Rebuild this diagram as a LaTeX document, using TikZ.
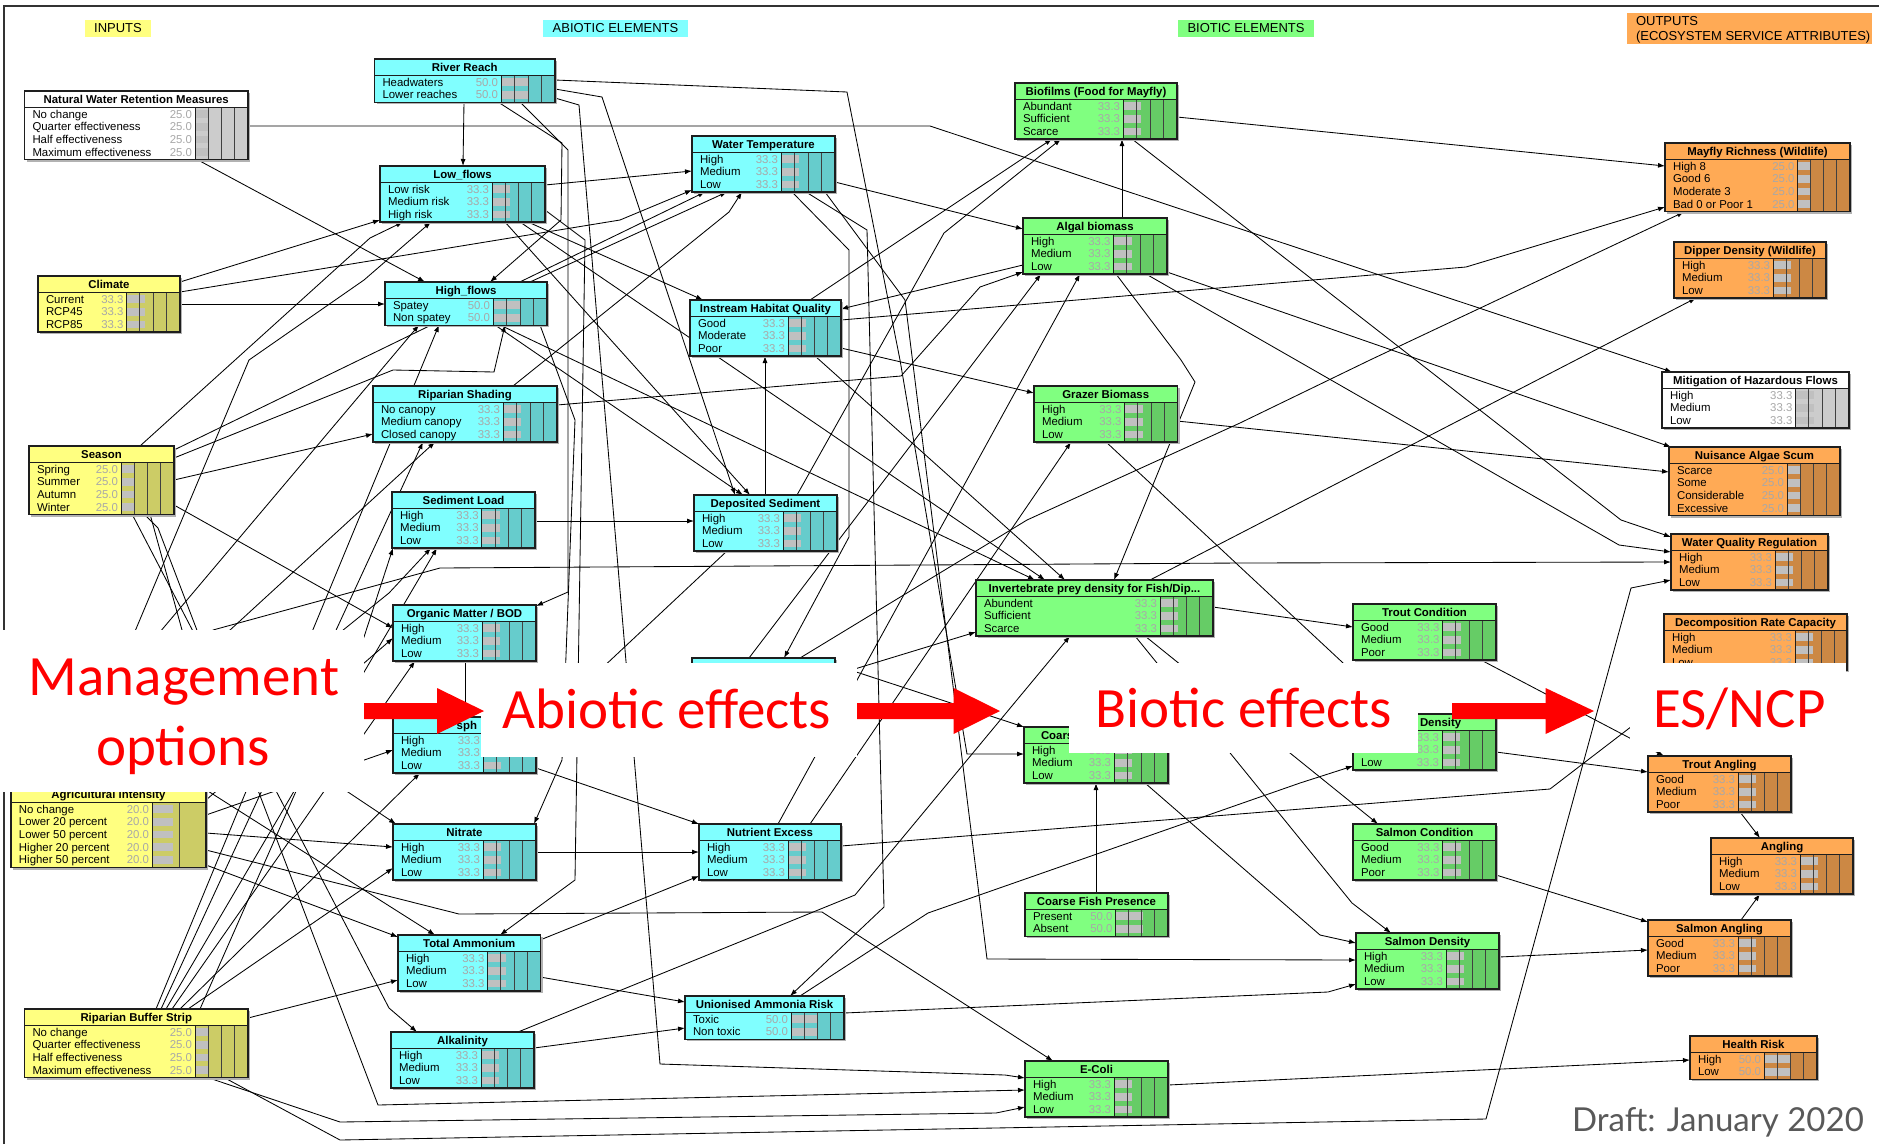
\documentclass[tikz,border=0pt]{standalone}
\usepackage{fontspec}
\setmainfont{Liberation Sans}
\newfontfamily\calibfont{Carlito}
\newfontfamily\latofont{Lato}
\usetikzlibrary{arrows.meta,calc}
\pgfdeclarelayer{bg}
\pgfdeclarelayer{edgelayer}
\pgfsetlayers{bg,edgelayer,main}

\definecolor{cyL}{HTML}{80FFFF}\definecolor{cyD}{HTML}{66CCCC}
\definecolor{yeL}{HTML}{FFFF80}\definecolor{yeD}{HTML}{CCCC66}
\definecolor{grL}{HTML}{80FF80}\definecolor{grD}{HTML}{66CC66}
\definecolor{orL}{HTML}{FFAA55}\definecolor{orD}{HTML}{CC8844}
\definecolor{whL}{HTML}{FFFFFF}\definecolor{whD}{HTML}{CCCCCC}
\definecolor{valgray}{HTML}{A8A8A8}
\definecolor{barc}{HTML}{C0C0C0}
\definecolor{draftgray}{HTML}{595959}
\definecolor{nbord}{HTML}{1E1E1E}
\definecolor{redov}{HTML}{FF0000}

\tikzset{
  rowtxt/.style={inner sep=0pt, outer sep=0pt, anchor=base west, font=\fontsize{11.4}{13}\selectfont},
  valtxt/.style={inner sep=0pt, outer sep=0pt, anchor=base east, text=valgray, font=\fontsize{11.4}{13}\selectfont},
  ttltxt/.style={inner sep=0pt, outer sep=0pt, anchor=base, font=\bfseries\fontsize{11.4}{13}\selectfont},
  edge/.style={draw=black, line width=0.85pt, -{Latex[length=7pt,width=5pt]}},
  nbox/.style={draw=nbord, line width=1.3pt},
  nline/.style={draw=nbord, line width=1pt},
  qline/.style={draw=black!75, line width=0.8pt},
  catlbl/.style={inner sep=0pt, outer sep=0pt, font=\fontsize{13}{15}\selectfont},
  redtxt/.style={inner sep=0pt, outer sep=0pt, anchor=base, text=redov, font=\calibfont\fontsize{57}{60}\selectfont},
}

\newcommand\nolab{}
\def\barscale{0.535}
\def\qlist{0.25,0.5,0.75}

% #1 name, #2 x0, #3 y0, #4 width, #5 bar offset, #6 rows, #7 scheme, #8 title, #9 rows
\newcommand{\bn}[9]{%
  \pgfmathsetmacro{\bnh}{18+12.7*#6}%
  \pgfmathsetmacro{\bnbw}{#4-#5}%
  \expandafter\xdef\csname bnx#1\endcsname{#2}%
  \expandafter\xdef\csname bny#1\endcsname{#3}%
  \begin{scope}[shift={(#2,#3)}]
    \fill[black!30] (2,2) rectangle (#4+2,\bnh+2);
    \fill[#7L] (0,0) rectangle (#4,\bnh);
    \fill[#7D] (#5,16) rectangle (#4,\bnh);
    \foreach \lab/\val [count=\i] in {#9} {%
      \pgfmathsetmacro{\yy}{23+12.7*(\i-1)}%
      \fill[barc] (#5+0.6,\yy-3.8) rectangle (#5+0.6+\val*\barscale,\yy+3.8);
      \node[rowtxt] (#1l\i) at (8,\yy+4) {\lab};
      \node[valtxt] (#1v\i) at (#5-3,\yy+4) {\val};
    }
    \foreach \k in \qlist {\draw[qline] (#5+\bnbw*\k,16) -- (#5+\bnbw*\k,\bnh);}
    \draw[nline] (0,16) -- (#4,16);
    \draw[nline] (#5,16) -- (#5,\bnh);
    \draw[nbox] (0,0) rectangle (#4,\bnh);
    \node[ttltxt] (#1t) at (#4/2,12) {#8};
  \end{scope}
  \node[inner sep=0pt, outer sep=0pt, minimum width=#4pt, minimum height=\bnh pt, anchor=north west] (#1) at (#2,#3) {};
}

% edge: #1 src, #2 #3 abs point on src, #4 via, #5 tgt, #6 #7 abs point on tgt
\newcommand{\ed}[7]{%
  \edef\edsx{\csname bnx#1\endcsname}\edef\edsy{\csname bny#1\endcsname}%
  \edef\edtx{\csname bnx#5\endcsname}\edef\edty{\csname bny#5\endcsname}%
  \pgfmathsetmacro\edax{#2-\edsx}\pgfmathsetmacro\eday{#3-\edsy}%
  \pgfmathsetmacro\edbx{#6-\edtx}\pgfmathsetmacro\edby{#7-\edty}%
  \draw[edge] ($(#1.north west)+(\edax,\eday)$) #4 ($(#5.north west)+(\edbx,\edby)$);}

\begin{document}
\begin{tikzpicture}[x=1pt,y=-1pt]
\useasboundingbox (0,0) rectangle (1879,1144);
\begin{pgfonlayer}{bg}
\fill[white] (0,0) rectangle (1879,1144);
\draw[line width=2pt, black!80] (4,1144) -- (4,6) -- (1879,6);
\end{pgfonlayer}

% ---------- category labels ----------
\node[catlbl, fill=yeL, minimum width=66pt, minimum height=17pt, anchor=north west] (labIn) at (85,20) {INPUTS};
\node[catlbl, fill=cyL, minimum width=145pt, minimum height=17pt, anchor=north west] (labAb) at (543,20) {ABIOTIC ELEMENTS};
\node[catlbl, fill=grL, minimum width=136pt, minimum height=17pt, anchor=north west] (labBi) at (1178,20) {BIOTIC ELEMENTS};
\node[fill=orL, inner sep=0pt, minimum width=245pt, minimum height=31pt, anchor=north west] (labOut) at (1627,13) {};
\node[catlbl, anchor=base west] (labOutA) at (1636,25) {OUTPUTS};
\node[catlbl, anchor=base west] (labOutB) at (1636,40) {(ECOSYSTEM SERVICE ATTRIBUTES)};

% ---------- inputs ----------
\bn{NWRM}{24.5}{91}{223.5}{170.5}{4}{wh}{Natural Water Retention Measures}{No change/25.0,Quarter effectiveness/25.0,Half effectiveness/25.0,Maximum effectiveness/25.0}
\bn{CL}{38}{276}{142}{88.5}{3}{ye}{Climate}{Current/33.3,RCP45/33.3,RCP85/33.3}
\bn{SE}{29}{446}{145}{92}{4}{ye}{Season}{Spring/25.0,Summer/25.0,Autumn/25.0,Winter/25.0}
\def\barscale{1}\def\qlist{0.5}
\bn{AG}{11}{786}{195}{141}{5}{ye}{Agricultural intensity}{No change/20.0,Lower 20 percent/20.0,Lower 50 percent/20.0,Higher 20 percent/20.0,Higher 50 percent/20.0}
\def\barscale{0.535}\def\qlist{0.25,0.5,0.75}
\bn{RBS}{24.5}{1009}{223.5}{170.5}{4}{ye}{Riparian Buffer Strip}{No change/25.0,Quarter effectiveness/25.0,Half effectiveness/25.0,Maximum effectiveness/25.0}

% ---------- abiotic ----------
\bn{RR}{374.5}{59}{180.5}{126.5}{2}{cy}{River Reach}{Headwaters/50.0,Lower reaches/50.0}
\bn{LF}{380}{166}{165}{112}{3}{cy}{Low\_flows}{Low risk/33.3,Medium risk/33.3,High risk/33.3}
\bn{HF}{385}{282}{162}{108}{2}{cy}{High\_flows}{Spatey/50.0,Non spatey/50.0}
\bn{RS}{373}{386}{184}{130}{3}{cy}{Riparian Shading}{No canopy/33.3,Medium canopy/33.3,Closed canopy/33.3}
\bn{SL}{392}{492}{143}{89.6}{3}{cy}{Sediment Load}{High/33.3,Medium/33.3,Low/33.3}
\bn{OM}{393}{605}{143}{89}{3}{cy}{Organic Matter / BOD}{High/33.3,Medium/33.3,Low/33.3}
\bn{PH}{393}{717}{143}{90}{3}{cy}{}{High/33.3,Medium/33.3,Low/33.3}
\node[ttltxt, anchor=base west] (PHpart) at (456.7,729) {sph};
\bn{NI}{393}{824}{143}{90}{3}{cy}{Nitrate}{High/33.3,Medium/33.3,Low/33.3}
\bn{TA}{398}{935}{142.5}{89.5}{3}{cy}{Total Ammonium}{High/33.3,Medium/33.3,Low/33.3}
\bn{AL}{391}{1032}{143}{90}{3}{cy}{Alkalinity}{High/33.3,Medium/33.3,Low/33.3}
\bn{WT}{692}{136}{143}{89}{3}{cy}{Water Temperature}{High/33.3,Medium/33.3,Low/33.3}
\bn{IHQ}{690}{300}{151}{98}{3}{cy}{Instream Habitat Quality}{Good/33.3,Moderate/33.3,Poor/33.3}
\bn{DS}{694}{495}{143}{89}{3}{cy}{Deposited Sediment}{High/33.3,Medium/33.3,Low/33.3}
% node hidden behind the white panel: only its top edge shows
\expandafter\xdef\csname bnxHN\endcsname{692}%
\expandafter\xdef\csname bnyHN\endcsname{658}%
\fill[black!30] (694,660) rectangle (837,716.1);
\fill[cyL] (692,658) rectangle (835,714.1);
\draw[nbox] (692,658) rectangle (835,714.1);
\node[inner sep=0pt, outer sep=0pt, minimum width=143pt, minimum height=56.1pt, anchor=north west] (HN) at (692,658) {};
\bn{NE}{699}{824}{142}{89}{3}{cy}{Nutrient Excess}{High/33.3,Medium/33.3,Low/33.3}
\bn{UAR}{685}{996}{159}{106}{2}{cy}{Unionised Ammonia Risk}{Toxic/50.0,Non toxic/50.0}

% ---------- biotic ----------
\bn{BF}{1015}{83}{162}{108}{3}{gr}{Biofilms (Food for Mayfly)}{Abundant/33.3,Sufficient/33.3,Scarce/33.3}
\bn{AB}{1023}{218}{144}{90.5}{3}{gr}{Algal biomass}{High/33.3,Medium/33.3,Low/33.3}
\bn{GB}{1034}{386}{143.5}{90.5}{3}{gr}{Grazer Biomass}{High/33.3,Medium/33.3,Low/33.3}
\bn{INV}{976}{580}{237}{184}{3}{gr}{Invertebrate prey density for Fish/Dip...}{Abundent/33.3,Sufficient/33.3,Scarce/33.3}
\bn{CFD}{1024}{727}{144}{90}{3}{gr}{}{High/33.3,Medium/33.3,Low/33.3}
\node[ttltxt, anchor=base west] (CFDpart) at (1041,739) {Coars};
\bn{CFP}{1025}{893}{143}{90.5}{2}{gr}{Coarse Fish Presence}{Present/50.0,Absent/50.0}
\bn{EC}{1025}{1061}{143}{89}{3}{gr}{E-Coli}{High/33.3,Medium/33.3,Low/33.3}
\bn{TC}{1353}{604}{143}{89.5}{3}{gr}{Trout Condition}{Good/33.3,Medium/33.3,Poor/33.3}
\bn{TD}{1353}{714}{143}{89}{3}{gr}{}{\nolab/33.3,\nolab/33.3,Low/33.3}
\node[ttltxt, anchor=base west] (TDpart) at (1420,726) {Density};
\bn{SC}{1353}{824}{143}{89.5}{3}{gr}{Salmon Condition}{Good/33.3,Medium/33.3,Poor/33.3}
\bn{SD}{1356}{933}{143}{90}{3}{gr}{Salmon Density}{High/33.3,Medium/33.3,Low/33.3}

% ---------- outputs ----------
\bn{MR}{1665}{143}{185}{132.5}{4}{or}{Mayfly Richness (Wildlife)}{High 8/25.0,Good 6/25.0,Moderate 3/25.0,Bad 0 or Poor 1/25.0}
\bn{DD}{1674}{242}{152}{99}{3}{or}{Dipper Density (Wildlife)}{High/33.3,Medium/33.3,Low/33.3}
\bn{MHF}{1662}{372}{187}{133.4}{3}{wh}{Mitigation of Hazardous Flows}{High/33.3,Medium/33.3,Low/33.3}
\bn{NAS}{1669}{447}{171}{118}{4}{or}{Nuisance Algae Scum}{Scarce/25.0,Some/25.0,Considerable/25.0,Excessive/25.0}
\bn{WQR}{1671}{534}{157}{104}{3}{or}{Water Quality Regulation}{High/33.3,Medium/33.3,Low/33.3}
\bn{DRC}{1664}{614}{183}{131}{3}{or}{Decomposition Rate Capacity}{High/33.3,Medium/33.3,Low/33.3}
\bn{TAng}{1648}{756}{143}{90}{3}{or}{Trout Angling}{Good/33.3,Medium/33.3,Poor/33.3}
\bn{Ang}{1711}{838}{142}{89}{3}{or}{Angling}{High/33.3,Medium/33.3,Low/33.3}
\bn{SAng}{1648}{920}{143}{90}{3}{or}{Salmon Angling}{Good/33.3,Medium/33.3,Poor/33.3}
\bn{HR}{1690}{1036}{127}{74}{2}{or}{Health Risk}{High/50.0,Low/50.0}

% ---------- connectors ----------
\begin{pgfonlayer}{edgelayer}
\ed{NWRM}{248}{126}{-- (930,126) --}{MHF}{1672}{372}
\ed{NWRM}{198}{160}{--}{HF}{425}{282}
\ed{RR}{464}{102}{--}{LF}{463}{166}
\ed{RR}{498}{102}{-- (562,143) -- (561,220) --}{HF}{490}{282}
\ed{RR}{555}{80}{-- (847,92) -- (900,360) -- (967,754) --}{CFD}{1024}{754}
\ed{RR}{555}{98}{-- (579,105) -- (660,1064) -- (1005,1075) --}{EC}{1025}{1078}
\ed{RR}{555}{89}{-- (602,97) --}{DS}{735}{495}
\ed{RR}{520}{102}{-- (568,150) -- (568,592) --}{OM}{536}{606}
\ed{LF}{545}{185}{--}{WT}{692}{171}
\ed{CL}{180}{282}{--}{LF}{380}{220}
\ed{CL}{180}{304}{--}{HF}{385}{304}
\ed{CL}{180}{292}{-- (620,220) --}{WT}{692}{190}
\ed{SE}{140}{446}{-- (370,238) --}{LF}{403}{222}
\ed{SE}{174}{450}{--}{WT}{705}{192}
\ed{SE}{174}{458}{-- (393,370) -- (494,372) --}{HF}{505}{325}
\ed{RS}{513}{386}{-- (620,300) -- (729,212) --}{WT}{742}{192}
\ed{HF}{530}{282}{--}{WT}{727}{192}
\ed{LF}{528}{222}{--}{IHQ}{703}{300}
\ed{AB}{1023}{265}{--}{IHQ}{841}{309}
\ed{IHQ}{841}{320}{-- (1466,267) --}{MR}{1665}{207}
\ed{IHQ}{810}{300}{--}{BF}{1052}{139}
\ed{DS}{765}{495}{--}{IHQ}{765}{356}
\ed{IHQ}{841}{348}{--}{GB}{1034}{393}
\ed{IHQ}{815}{356}{--}{INV}{1065}{580}
\ed{BF}{1177}{117}{--}{MR}{1665}{166}
\ed{BF}{1132}{139}{-- (1621,520) --}{WQR}{1671}{537}
\ed{AB}{1122}{218}{--}{BF}{1122}{139}
\ed{WT}{835}{182}{--}{AB}{1023}{229}
\ed{AB}{1167}{272}{--}{NAS}{1671}{447}
\ed{AB}{1116}{274}{-- (1181,360) -- (1195,382) --}{INV}{1114}{580}
\ed{AB}{1146}{274}{-- (1619,545) --}{WQR}{1671}{552}
\ed{GB}{1177}{421}{--}{NAS}{1669}{472}
\ed{INV}{1150}{580}{--}{DD}{1696}{298}
\ed{INV}{1213}{607}{--}{TC}{1353}{627}
\ed{HN}{800}{658}{-- (1027,520) -- (1240,423) -- (1370,360) --}{MR}{1684}{212}
\ed{GB}{1105}{441}{-- (1342,662) --}{TD}{1398}{714}
\ed{INV}{1145}{636}{--}{SC}{1378}{824}
\ed{INV}{1135}{636}{-- (1352,903) --}{SD}{1391}{933}
\ed{CFD}{1145}{783}{-- (1320,935) --}{SD}{1356}{943}
\ed{CFP}{1096}{893}{--}{CFD}{1096}{783}
\ed{TC}{1481}{660}{--}{TAng}{1664}{756}
\ed{TD}{1496}{752}{--}{TAng}{1648}{772}
\ed{TAng}{1740}{812}{--}{Ang}{1760}{838}
\ed{SC}{1496}{875}{--}{SAng}{1648}{922}
\ed{SD}{1499}{957}{--}{SAng}{1648}{950}
\ed{SAng}{1741}{920}{--}{Ang}{1760}{894}
\ed{EC}{1168}{1085}{--}{HR}{1690}{1060}
\ed{NE}{841}{846}{-- (1550,789) --}{DRC}{1705}{670}
\ed{UAR}{844}{1013}{-- (1328,992) --}{SD}{1356}{984}
\ed{UAR}{800}{996}{-- (928,913) -- (1300,783) --}{TD}{1353}{766}
\ed{AG}{206}{850}{-- (459,914) -- (822,912) --}{EC}{1053}{1061}
\ed{SE}{144}{514}{-- (158,528) -- (378,1105) --}{EC}{1025}{1090}
\ed{RBS}{209}{1078}{-- (340,1122) -- (996,1113) --}{EC}{1025}{1107}
\ed{RBS}{225}{1078}{-- (340,1140) -- (1486,1119) -- (1631,588) --}{WQR}{1671}{580}
\ed{TA}{540}{977}{--}{UAR}{685}{1002}
\ed{AL}{534}{1048}{--}{UAR}{685}{1028}
\ed{NI}{536}{852}{--}{NE}{699}{852}
\ed{PH}{536}{768}{--}{NE}{699}{824}
\ed{TA}{540}{940}{--}{NE}{699}{876}
\ed{AL}{518}{1032}{-- (855,895) --}{INV}{1070}{636}
\ed{AG}{206}{833}{--}{NI}{393}{847}
\ed{RBS}{188}{1009}{--}{NI}{393}{868}
\ed{AG}{206}{865}{--}{TA}{398}{937}
\ed{RBS}{248}{1018}{--}{TA}{398}{980}
\ed{SE}{132}{514}{-- (389,1008) --}{AL}{417}{1032}
\ed{RBS}{172}{1009}{--}{OM}{415}{661}
\ed{RBS}{166}{1009}{--}{SL}{437}{548}
\ed{RBS}{161}{1009}{--}{RS}{423}{442}
\ed{RBS}{156}{1009}{--}{HF}{439}{325}
\ed{AG}{30}{786}{--}{HF}{419}{325}
\ed{SE}{174}{480}{--}{RS}{373}{434}
\ed{AG}{60}{786}{--}{RS}{435}{442}
\ed{HF}{540}{325}{-- (575,420) -- (562,760) --}{NI}{534}{824}
\ed{LF}{545}{210}{-- (585,240) -- (575,880) --}{TA}{500}{935}
\ed{OM}{465}{661}{--}{PH}{465}{717}
\ed{SE}{150}{514}{-- (182,630) -- (300,760) --}{NI}{396}{824}
\ed{AG}{200}{786}{--}{TA}{435}{935}
\ed{AG}{206}{800}{--}{OM}{393}{638}
\ed{AG}{206}{815}{--}{PH}{393}{750}
\ed{SE}{174}{505}{--}{OM}{393}{628}
\ed{RBS}{180}{1009}{--}{PH}{420}{773}
\ed{SL}{535}{521}{--}{DS}{694}{521}
\ed{DS}{727}{551}{--}{PH}{536}{730}
\ed{AG}{180}{786}{-- (213,630) -- (440,568) -- (1240,563) --}{WQR}{1671}{562}
\ed{RS}{557}{405}{-- (901,376) -- (980,287) --}{AB}{1023}{272}
\ed{HN}{749}{658}{--}{AB}{1041}{274}
\ed{NE}{778}{824}{--}{AB}{1080}{274}
\ed{DS}{797}{495}{-- (944,233) --}{BF}{1061}{139}
\ed{NE}{810}{824}{--}{GB}{1071}{442}
\ed{HF}{500}{325}{--}{INV}{1035}{580}
\ed{LF}{520}{222}{--}{INV}{1045}{580}
\ed{HN}{835}{675}{--}{INV}{976}{632}
\ed{WT}{792}{192}{-- (849,250) -- (849,537) --}{HN}{784}{658}
\ed{WT}{806}{192}{-- (867,230) -- (884,907) --}{UAR}{790}{996}
\ed{WT}{825}{192}{-- (905,300) -- (987,959) --}{SD}{1356}{960}
\ed{HN}{835}{665}{--}{CFD}{1024}{727}
\ed{HF}{495}{325}{--}{DS}{743}{495}
\ed{LF}{505}{222}{--}{DS}{750}{495}
\ed{AG}{70}{786}{-- (249,360) -- (364,280) --}{LF}{431}{222}
\ed{AG}{150}{786}{-- (389,593) --}{SL}{431}{548}
\ed{RBS}{200}{1009}{-- (364,637) --}{SL}{393}{548}
\end{pgfonlayer}

% ---------- overlay: white panels, red text and arrows ----------
\fill[white] (0,630) rectangle (364,792);
\fill[white] (481,663) rectangle (857,757);
\fill[white] (1069,663) rectangle (1418,753);
\fill[white] (1418,663) rectangle (1452,713);
\fill[white] (1630,663) rectangle (1846,752);

\fill[redov] (364,703) -- (437,703) -- (437,688) -- (484,711) -- (437,734) -- (437,719) -- (364,719) -- cycle;
\fill[redov] (857,703) -- (953.6,703) -- (953.6,688) -- (1000,711) -- (953.6,734) -- (953.6,719) -- (857,719) -- cycle;
\fill[redov] (1452,703) -- (1545.6,703) -- (1545.6,688) -- (1594,711) -- (1545.6,734) -- (1545.6,719) -- (1452,719) -- cycle;

\node[redtxt] (txtMgmtA) at (184,695) {Management};
\node[redtxt] (txtMgmtB) at (183,765) {options};
\node[redtxt] (txtAbio) at (667,728) {Abiotic effects};
\node[redtxt] (txtBio) at (1244,727) {Biotic effects};
\node[redtxt] (txtES) at (1739.5,727) {ES/NCP};

\node[inner sep=0pt, anchor=base east, text=draftgray, font=\latofont\fontsize{33}{36}\selectfont] (draft) at (1864,1131) {Draft: January 2020};
\end{tikzpicture}
\end{document}
